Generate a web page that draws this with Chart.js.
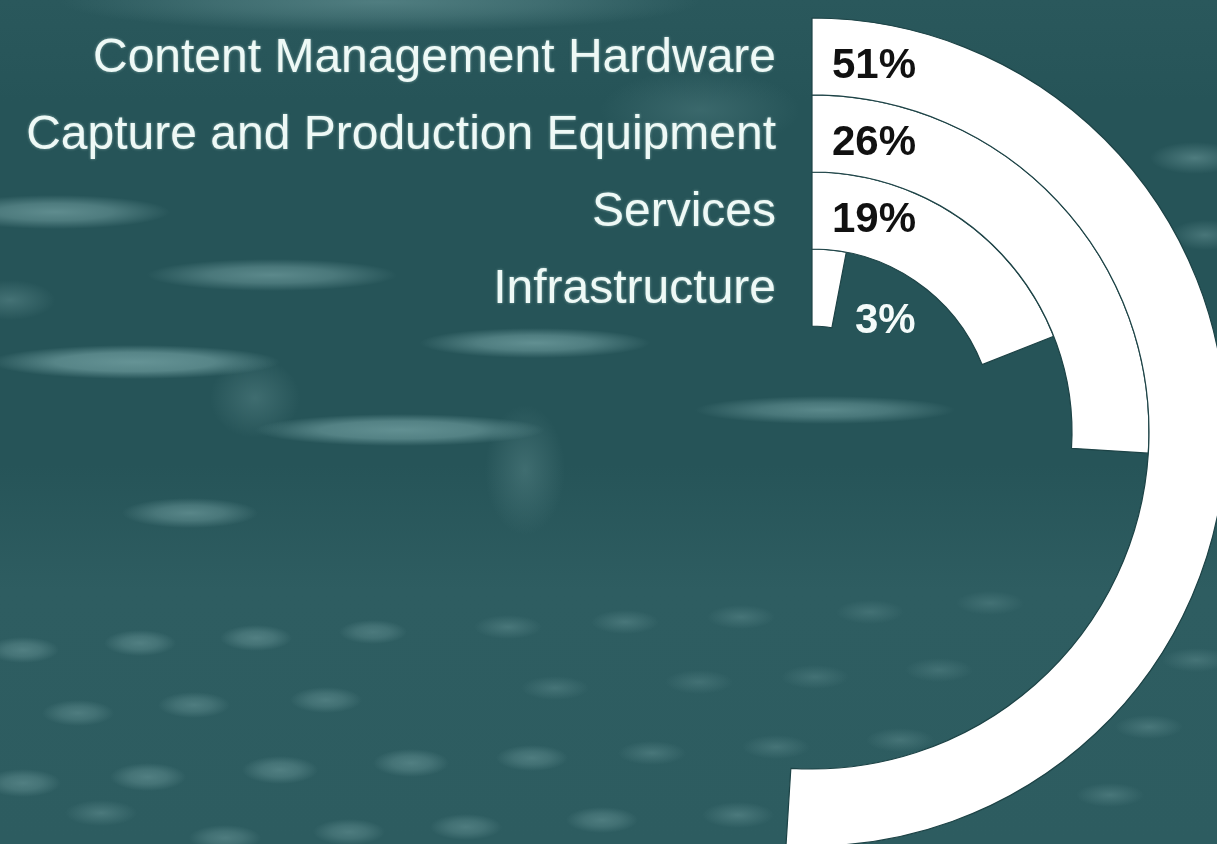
<!DOCTYPE html>
<html>
<head>
<meta charset="utf-8">
<script src="https://cdn.jsdelivr.net/npm/chart.js@4/dist/chart.umd.min.js"></script>
<style>
    html, body {
        margin: 0;
        padding: 0;
        width: 1217px;
        height: 844px;
        overflow: hidden;
    }
    body {
        background-color: #275559;
        background-image:
            /* blurred light streaks, upper half */
            radial-gradient(320px 30px at 380px 2px, rgba(105,150,152,.6) 0%, rgba(105,150,152,.35) 50%, rgba(105,150,152,0) 100%),
            radial-gradient(115px 17px at 55px 212px, rgba(105,150,152,.85) 0%, rgba(105,150,152,.6) 50%, rgba(105,150,152,0) 100%),
            radial-gradient(125px 16px at 272px 275px, rgba(105,150,152,.8) 0%, rgba(105,150,152,.55) 50%, rgba(105,150,152,0) 100%),
            radial-gradient(45px 20px at 10px 300px, rgba(105,150,152,.45) 0%, rgba(105,150,152,0) 100%),
            radial-gradient(145px 17px at 135px 362px, rgba(108,154,156,.9) 0%, rgba(108,154,156,.7) 55%, rgba(108,154,156,0) 100%),
            radial-gradient(115px 15px at 535px 343px, rgba(108,154,156,.85) 0%, rgba(108,154,156,.6) 50%, rgba(108,154,156,0) 100%),
            radial-gradient(145px 16px at 400px 430px, rgba(108,154,156,.85) 0%, rgba(108,154,156,.65) 55%, rgba(108,154,156,0) 100%),
            radial-gradient(130px 14px at 825px 410px, rgba(108,154,156,.75) 0%, rgba(108,154,156,.5) 50%, rgba(108,154,156,0) 100%),
            radial-gradient(68px 15px at 190px 513px, rgba(105,150,152,.75) 0%, rgba(105,150,152,.5) 50%, rgba(105,150,152,0) 100%),
            radial-gradient(45px 16px at 1195px 158px, rgba(105,150,152,.6) 0%, rgba(105,150,152,0) 100%),
            radial-gradient(35px 15px at 1205px 235px, rgba(105,150,152,.5) 0%, rgba(105,150,152,0) 100%),
            radial-gradient(100px 40px at 700px 110px, rgba(105,150,152,.3) 0%, rgba(105,150,152,0) 100%),
            radial-gradient(45px 40px at 255px 398px, rgba(100,145,147,.4) 0%, rgba(100,145,147,0) 100%),
            radial-gradient(40px 65px at 525px 470px, rgba(100,145,147,.4) 0%, rgba(100,145,147,0) 100%),
            /* small dots, lower half */
            radial-gradient(36px 13px at 23px 650px, rgba(105,150,152,.6) 0%, rgba(105,150,152,.4) 50%, rgba(105,150,152,0) 100%),
            radial-gradient(36px 13px at 140px 643px, rgba(105,150,152,.6) 0%, rgba(105,150,152,.4) 50%, rgba(105,150,152,0) 100%),
            radial-gradient(36px 13px at 256px 638px, rgba(105,150,152,.6) 0%, rgba(105,150,152,.4) 50%, rgba(105,150,152,0) 100%),
            radial-gradient(34px 12px at 373px 632px, rgba(105,150,152,.5) 0%, rgba(105,150,152,.35) 50%, rgba(105,150,152,0) 100%),
            radial-gradient(34px 12px at 508px 627px, rgba(105,150,152,.45) 0%, rgba(105,150,152,0) 100%),
            radial-gradient(34px 12px at 625px 622px, rgba(105,150,152,.45) 0%, rgba(105,150,152,0) 100%),
            radial-gradient(34px 12px at 741px 617px, rgba(105,150,152,.4) 0%, rgba(105,150,152,0) 100%),
            radial-gradient(34px 12px at 870px 612px, rgba(105,150,152,.35) 0%, rgba(105,150,152,0) 100%),
            radial-gradient(34px 12px at 990px 603px, rgba(105,150,152,.35) 0%, rgba(105,150,152,0) 100%),
            radial-gradient(36px 13px at 78px 713px, rgba(105,150,152,.55) 0%, rgba(105,150,152,.35) 50%, rgba(105,150,152,0) 100%),
            radial-gradient(36px 13px at 194px 705px, rgba(105,150,152,.55) 0%, rgba(105,150,152,.35) 50%, rgba(105,150,152,0) 100%),
            radial-gradient(36px 13px at 326px 700px, rgba(105,150,152,.55) 0%, rgba(105,150,152,.35) 50%, rgba(105,150,152,0) 100%),
            radial-gradient(34px 12px at 555px 688px, rgba(105,150,152,.4) 0%, rgba(105,150,152,0) 100%),
            radial-gradient(34px 12px at 699px 682px, rgba(105,150,152,.35) 0%, rgba(105,150,152,0) 100%),
            radial-gradient(34px 12px at 815px 677px, rgba(105,150,152,.35) 0%, rgba(105,150,152,0) 100%),
            radial-gradient(34px 12px at 939px 670px, rgba(105,150,152,.35) 0%, rgba(105,150,152,0) 100%),
            radial-gradient(38px 14px at 23px 783px, rgba(105,150,152,.6) 0%, rgba(105,150,152,.4) 50%, rgba(105,150,152,0) 100%),
            radial-gradient(38px 14px at 148px 777px, rgba(105,150,152,.6) 0%, rgba(105,150,152,.4) 50%, rgba(105,150,152,0) 100%),
            radial-gradient(38px 14px at 280px 770px, rgba(105,150,152,.6) 0%, rgba(105,150,152,.4) 50%, rgba(105,150,152,0) 100%),
            radial-gradient(38px 14px at 411px 763px, rgba(105,150,152,.6) 0%, rgba(105,150,152,.4) 50%, rgba(105,150,152,0) 100%),
            radial-gradient(36px 13px at 532px 758px, rgba(105,150,152,.55) 0%, rgba(105,150,152,.35) 50%, rgba(105,150,152,0) 100%),
            radial-gradient(34px 12px at 652px 753px, rgba(105,150,152,.45) 0%, rgba(105,150,152,0) 100%),
            radial-gradient(34px 12px at 776px 747px, rgba(105,150,152,.4) 0%, rgba(105,150,152,0) 100%),
            radial-gradient(34px 12px at 900px 740px, rgba(105,150,152,.4) 0%, rgba(105,150,152,0) 100%),
            radial-gradient(36px 13px at 101px 813px, rgba(105,150,152,.5) 0%, rgba(105,150,152,0) 100%),
            radial-gradient(36px 13px at 225px 838px, rgba(105,150,152,.55) 0%, rgba(105,150,152,.35) 50%, rgba(105,150,152,0) 100%),
            radial-gradient(36px 13px at 349px 832px, rgba(105,150,152,.55) 0%, rgba(105,150,152,.35) 50%, rgba(105,150,152,0) 100%),
            radial-gradient(36px 13px at 466px 827px, rgba(105,150,152,.55) 0%, rgba(105,150,152,.35) 50%, rgba(105,150,152,0) 100%),
            radial-gradient(36px 13px at 602px 820px, rgba(105,150,152,.55) 0%, rgba(105,150,152,.35) 50%, rgba(105,150,152,0) 100%),
            radial-gradient(36px 13px at 738px 815px, rgba(105,150,152,.5) 0%, rgba(105,150,152,0) 100%),
            radial-gradient(34px 12px at 1149px 727px, rgba(105,150,152,.45) 0%, rgba(105,150,152,0) 100%),
            radial-gradient(34px 12px at 1110px 795px, rgba(105,150,152,.45) 0%, rgba(105,150,152,0) 100%),
            radial-gradient(34px 12px at 1196px 660px, rgba(105,150,152,.4) 0%, rgba(105,150,152,0) 100%),
            linear-gradient(180deg, #2a585c 0%, #265458 12%, #265458 55%, #2e5d61 70%, #2d5c60 100%);
        background-repeat: no-repeat;
    }
    #wrap {
        position: absolute;
        left: 0;
        top: 0;
        width: 1217px;
        height: 844px;
    }
</style>
</head>
<body>
<div id="wrap"><canvas id="ringChart"></canvas></div>

<script>
// Chart data
const categories = ['Content Management Hardware', 'Capture and Production Equipment', 'Services', 'Infrastructure'];
const shares = [51, 26, 19, 3];
const fullScale = 100;

// one ring per category, outermost first
const ringDatasets = categories.map((name, i) => ({
    label: name,
    data: [shares[i], fullScale - shares[i]],
    backgroundColor: ['#ffffff', 'rgba(0,0,0,0)'],
    borderColor: ['#1d4346', 'rgba(0,0,0,0)'],
    borderWidth: [1.2, 0]
}));

// Names on the left of the rings, percentages inside them
const ringLabels = {
    id: 'ringLabels',
    afterDatasetsDraw(chart) {
        const ctx = chart.ctx;
        chart.data.datasets.forEach((ds, i) => {
            const arc = chart.getDatasetMeta(i).data[0];
            const midY = arc.y - (arc.innerRadius + arc.outerRadius) / 2;

            ctx.save();
            ctx.font = '48px "Liberation Sans", Arial, sans-serif';
            ctx.fillStyle = '#eef9f6';
            ctx.shadowColor = 'rgba(220,245,240,0.5)';
            ctx.shadowBlur = 3;
            ctx.textAlign = 'right';
            ctx.textBaseline = 'alphabetic';
            ctx.fillText(categories[i], arc.x - 36, midY + 15);
            ctx.restore();

            ctx.save();
            ctx.font = 'bold 42px "Liberation Sans", Arial, sans-serif';
            ctx.textAlign = 'left';
            ctx.textBaseline = 'alphabetic';
            const txt = shares[i] + '%';
            if (shares[i] < 5) {
                // too thin to hold the text: put it beside the wedge
                ctx.fillStyle = '#f4fbfa';
                ctx.fillText(txt, arc.x + 43, arc.y - arc.innerRadius + 7);
            } else {
                ctx.fillStyle = '#111111';
                ctx.fillText(txt, arc.x + 20, midY + 21);
            }
            ctx.restore();
        });
    }
};

new Chart(document.getElementById('ringChart'), {
    type: 'doughnut',
    data: {
        labels: ['share', 'rest'],
        datasets: ringDatasets
    },
    options: {
        responsive: true,
        maintainAspectRatio: false,
        animation: false,
        events: [],
        radius: 414,
        cutout: '25.6%',
        layout: { padding: { left: 407, top: 20, right: 0, bottom: 0 } },
        plugins: {
            legend: { display: false },
            tooltip: { enabled: false }
        }
    },
    plugins: [ringLabels]
});
</script>
</body>
</html>
